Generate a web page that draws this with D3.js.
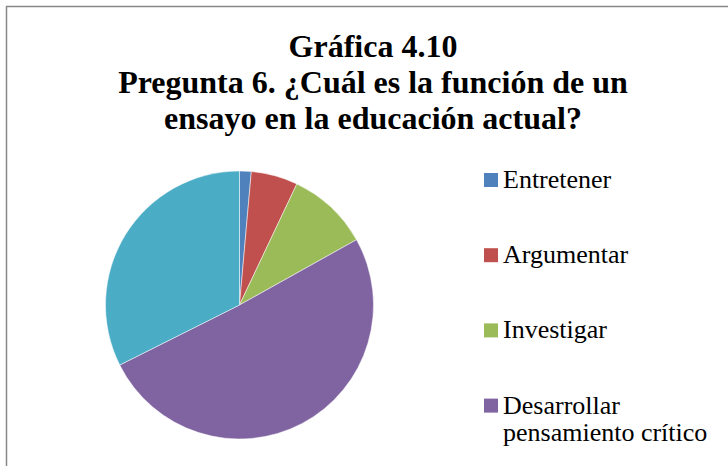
<!DOCTYPE html>
<html>
<head>
<meta charset="utf-8">
<script src="https://cdn.jsdelivr.net/npm/d3@7"></script>
<style>
  html, body { margin: 0; padding: 0; background: #fff; overflow: hidden; }
  svg { display: block; }
</style>
</head>
<body>
<script>
// answers to question 6 (counts)
const categories = ["Entretener", "Argumentar", "Investigar", "Desarrollar pensamiento crítico", "Todas las anteriores"]
const values     = [1, 4, 7, 36, 23]
const colors     = ["#4f81bd", "#c0504d", "#9bbb59", "#8064a2", "#4bacc6"]
const titleLines = ["Gráfica 4.10", "Pregunta 6. ¿Cuál es la función de un", "ensayo en la educación actual?"]
// legend text is wrapped by hand like in the original
const legendLines = [["Entretener"], ["Argumentar"], ["Investigar"], ["Desarrollar", "pensamiento crítico"], ["Todas las anteriores"]]

const width = 728, height = 466
const serif = "Liberation Serif"

const svg = d3.select("body").append("svg")
    .attr("width", width)
    .attr("height", height)

// chart border, right/bottom sides fall outside the picture
svg.append("rect")
    .attr("x", 6.5).attr("y", 6.5)
    .attr("width", 740).attr("height", 480)
    .attr("fill", "#fff")
    .attr("stroke", "#888")
    .attr("stroke-width", 1.5)

svg.append("g")
    .selectAll("text")
    .data(titleLines)
    .enter()
    .append("text")
    .attr("x", 373)
    .attr("y", (d, i) => 57 + i * 35.8)
    .attr("text-anchor", "middle")
    .attr("font-family", serif)
    .attr("font-weight", "bold")
    .attr("font-size", 32)
    .text(d => d)

const radius = 134
const pieG = svg.append("g")
    .attr("transform", "translate(239.5, 305)")

const pie = d3.pie().sort(null).value(d => d)
const arc = d3.arc().innerRadius(0).outerRadius(radius)
const color = d3.scaleOrdinal().domain(categories).range(colors)

pieG.selectAll("path")
    .data(pie(values))
    .enter()
    .append("path")
    .attr("d", arc)
    .attr("fill", (d, i) => color(categories[i]))
    .attr("stroke", "#fff")
    .attr("stroke-width", 0.5)

// legend: the last entry falls below the visible area in the original, so only draw what fits
const legendY = i => 188 + i * 75.2
const legend = svg.append("g")
    .selectAll("g")
    .data(categories.filter((d, i) => legendY(i) < height))
    .enter()
    .append("g")
    .attr("transform", (d, i) => `translate(484, ${legendY(i)})`)

legend.append("rect")
    .attr("y", -15)
    .attr("width", 14).attr("height", 14)
    .attr("fill", d => color(d))

legend.append("text")
    .attr("font-family", serif)
    .attr("font-size", 26)
    .selectAll("tspan")
    .data((d, i) => legendLines[i])
    .enter()
    .append("tspan")
    .attr("x", 19)
    .attr("dy", (d, i) => i === 0 ? 0 : 27)
    .text(d => d)
</script>
</body>
</html>
